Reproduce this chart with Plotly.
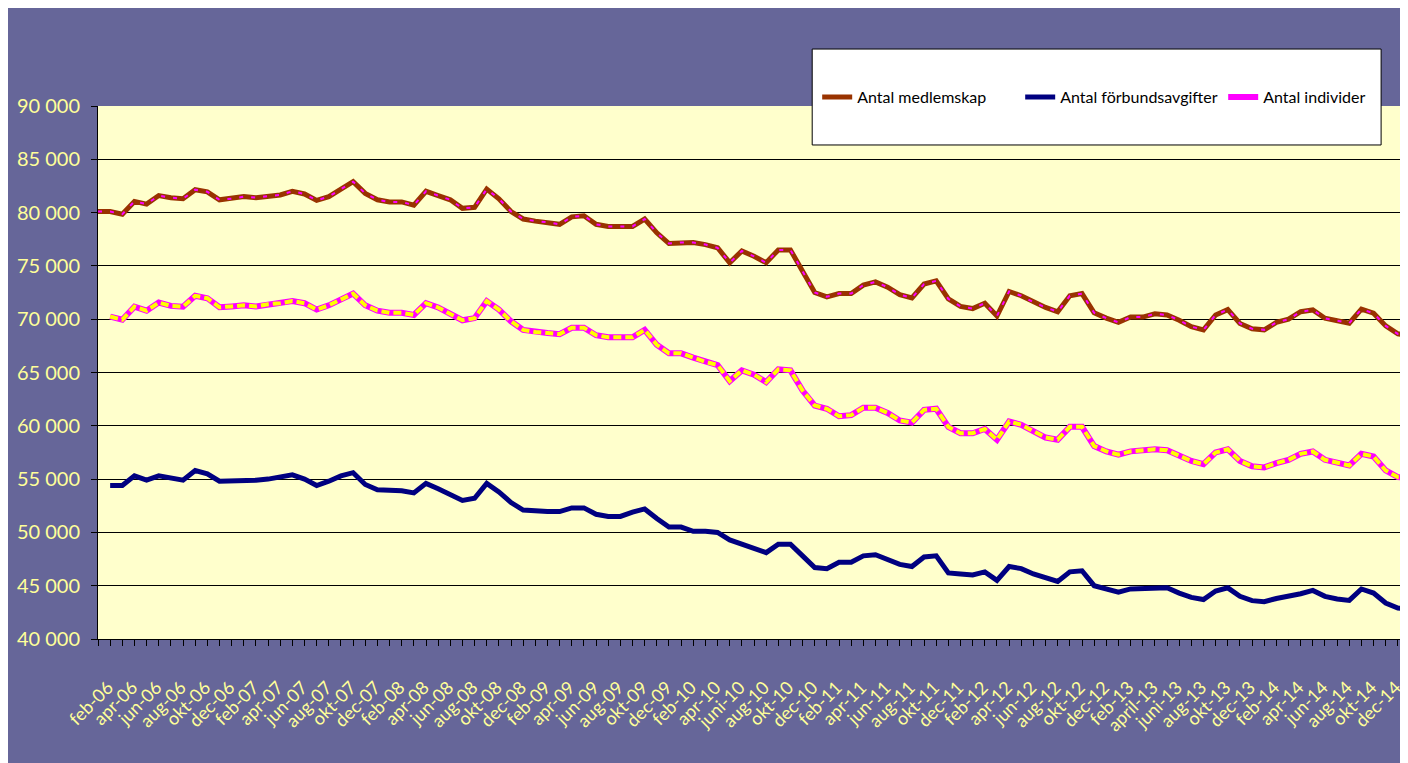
import plotly.graph_objects as go

months = [
    "feb-06", "mar-06", "apr-06", "maj-06", "jun-06", "jul-06", "aug-06", "sep-06", "okt-06", "nov-06", "dec-06",
    "jan-07", "feb-07", "mar-07", "apr-07", "maj-07", "jun-07", "jul-07", "aug-07", "sep-07", "okt-07", "nov-07", "dec-07",
    "jan-08", "feb-08", "mar-08", "apr-08", "maj-08", "jun-08", "jul-08", "aug-08", "sep-08", "okt-08", "nov-08", "dec-08",
    "jan-09", "feb-09", "mar-09", "apr-09", "maj-09", "jun-09", "jul-09", "aug-09", "sep-09", "okt-09", "nov-09", "dec-09",
    "jan-10", "feb-10", "mar-10", "apr-10", "maj-10", "juni-10", "jul-10", "aug-10", "sep-10", "okt-10", "nov-10", "dec-10",
    "jan-11", "feb-11", "mar-11", "apr-11", "maj-11", "jun-11", "jul-11", "aug-11", "sep-11", "okt-11", "nov-11", "dec-11",
    "jan-12", "feb-12", "mar-12", "apr-12", "maj-12", "jun-12", "jul-12", "aug-12", "sep-12", "okt-12", "nov-12", "dec-12",
    "jan-13", "feb-13", "mar-13", "april-13", "maj-13", "juni-13", "jul-13", "aug-13", "sep-13", "okt-13", "nov-13", "dec-13",
    "jan-14", "feb-14", "mar-14", "apr-14", "maj-14", "jun-14", "jul-14", "aug-14", "sep-14", "okt-14", "nov-14", "dec-14",
    "jan-15", "feb-15",
]

# only these categories carry a visible label in the original
labelled = [m for i, m in enumerate(months) if i % 2 == 0 and i <= 106]

medlemskap = [
    80100, 80100, 79850, 81050, 80800, 81600, 81400, 81300, 82150, 81950, 81200,
    81300, 81500, 81400, 81550, 81650, 82000, 81750, 81150, 81500, 82200, 82900, 81800,
    81200, 81000, 81000, 80700, 82000, 81600, 81200, 80400, 80500, 82200, 81300, 80100,
    79400, 79200, 79100, 78900, 79600, 79700, 78900, 78700, 78700, 78700, 79400, 78100,
    77100, 77200, 77200, 77000, 76700, 75300, 76400, 75900, 75300, 76500, 76500, 74500,
    72500, 72100, 72400, 72400, 73200, 73500, 73000, 72300, 72000, 73300, 73600, 71900,
    71200, 71000, 71500, 70300, 72600, 72200, 71600, 71100, 70700, 72200, 72400, 70600,
    70100, 69700, 70200, 70200, 70500, 70400, 69900, 69300, 69000, 70400, 70900, 69600,
    69100, 69000, 69700, 70000, 70700, 70870, 70090, 69870, 69630, 70940, 70560, 69370,
    68620, 68500,
]

forbundsavgifter = [
    None, 54400, 54400, 55300, 54900, 55300, 55100, 54900, 55800, 55500, 54800,
    54800, 54850, 54900, 55000, 55200, 55400, 55000, 54400, 54800, 55300, 55600, 54500,
    54000, 53950, 53900, 53700, 54600, 54100, 53600, 53000, 53200, 54600, 53800, 52800,
    52100, 52000, 51950, 51950, 52300, 52300, 51700, 51500, 51500, 51900, 52200, 51300,
    50500, 50500, 50100, 50100, 50000, 49300, 48900, 48400, 48100, 48900, 48900, 47800,
    46700, 46600, 47200, 47200, 47800, 47900, 47500, 47000, 46800, 47700, 47800, 46200,
    46100, 46000, 46300, 45500, 46800, 46600, 46100, 45700, 45400, 46300, 46400, 45000,
    44700, 44400, 44700, 44700, 44800, 44800, 44300, 43900, 43700, 44500, 44800, 44000,
    43600, 43500, 43800, 44000, 44250, 44560, 44000, 43750, 43620, 44690, 44310, 43380,
    42910, 42810,
]

individer = [
    None, 70250, 69950, 71180, 70800, 71560, 71250, 71180, 72190, 71970, 71120,
    71200, 71300, 71200, 71400, 71500, 71700, 71500, 70900, 71300, 71800, 72400, 71300,
    70800, 70600, 70600, 70400, 71500, 71100, 70500, 69900, 70100, 71700, 70900, 69800,
    69000, 68800, 68700, 68600, 69200, 69200, 68500, 68300, 68300, 68300, 69000, 67600,
    66800, 66800, 66400, 66000, 65700, 64200, 65200, 64800, 64100, 65300, 65200, 63300,
    61900, 61600, 60900, 61000, 61700, 61700, 61200, 60500, 60300, 61500, 61600, 59900,
    59300, 59300, 59700, 58700, 60400, 60100, 59500, 58900, 58700, 59900, 59900, 58100,
    57600, 57300, 57600, 57700, 57800, 57700, 57200, 56700, 56400, 57500, 57800, 56700,
    56200, 56100, 56500, 56800, 57370, 57590, 56810, 56500, 56280, 57370, 57120, 55810,
    55190, 55100,
]

y_ticks = [40000, 45000, 50000, 55000, 60000, 65000, 70000, 75000, 80000, 85000, 90000]
y_tick_text = ["40 000", "45 000", "50 000", "55 000", "60 000", "65 000", "70 000", "75 000", "80 000", "85 000", "90 000"]

x = list(range(len(months)))
x_tick_text = [m if m in labelled else "" for m in months]

FONT = "Lato"
LABEL = "#FFFF99"

fig = go.Figure()
fig.add_trace(go.Scatter(x=x, y=medlemskap, mode="lines", name="Antal medlemskap",
                         line=dict(color="#993300", width=5)))
fig.add_trace(go.Scatter(x=x, y=medlemskap, mode="lines", showlegend=False, hoverinfo="skip",
                         line=dict(color="#FF00FF", width=2, dash="4px,8px")))
fig.add_trace(go.Scatter(x=x, y=forbundsavgifter, mode="lines", name="Antal förbundsavgifter",
                         line=dict(color="#000080", width=5)))
fig.add_trace(go.Scatter(x=x, y=individer, mode="lines", name="Antal individer",
                         line=dict(color="#FF00FF", width=6)))
fig.add_trace(go.Scatter(x=x, y=individer, mode="lines", showlegend=False, hoverinfo="skip",
                         line=dict(color="#FFFF00", width=4, dash="8px,4px")))

# the page adds an 8px body margin, so figure coords = page coords - 8
OFF = 8
W, H = 1408, 763
PLOT_LEFT, PLOT_RIGHT, PLOT_TOP, PLOT_BOTTOM = 97.7, 97.7 + 108 * 12.15, 106, 639.3
L = PLOT_LEFT - OFF
T = PLOT_TOP - OFF
R = W - (PLOT_RIGHT - OFF)
B = H - (PLOT_BOTTOM - OFF)
pw = W - L - R
ph = H - T - B


def px(xp):
    return (xp - OFF - L) / pw


def py(yp):
    return (H - B - (yp - OFF)) / ph


shapes = [
    dict(type="rect", xref="paper", yref="paper", x0=px(812), x1=px(1381), y0=py(145), y1=py(49),
         fillcolor="white", line=dict(color="black", width=1), layer="above"),
]

fig.update_layout(
    width=W, height=H,
    margin=dict(l=L, r=R, t=T, b=B, pad=0, autoexpand=False),
    paper_bgcolor="#666699",
    plot_bgcolor="#FFFFCC",
    font=dict(family=FONT),
    shapes=shapes,
    showlegend=True,
    legend=dict(orientation="h", x=px(817), xanchor="left", y=py(97), yanchor="middle",
                bgcolor="rgba(0,0,0,0)", borderwidth=0, entrywidth=158, entrywidthmode="pixels",
                font=dict(family=FONT, size=16, color="black"), traceorder="normal"),
    xaxis=dict(range=[0, 108], showgrid=False, zeroline=False,
               tickmode="array", tickvals=x, ticktext=x_tick_text,
               ticks="outside", ticklen=6, tickcolor="black", tickwidth=1,
               showline=True, linecolor="black", linewidth=1, mirror=False,
               tickangle=-45, tickfont=dict(family=FONT, size=18, color=LABEL),
               ticklabelstandoff=24, ticklabelshift=10, ticklabeloverflow="allow"),
    yaxis=dict(range=[40000, 90000], showgrid=True, gridcolor="black", gridwidth=1, zeroline=False,
               tickmode="array", tickvals=y_ticks, ticktext=y_tick_text,
               ticks="outside", ticklen=6, tickcolor="black", tickwidth=1,
               showline=True, linecolor="black", linewidth=1,
               tickfont=dict(family=FONT, size=20, color=LABEL), ticklabelstandoff=7),
)

fig.write_html("out.html")
